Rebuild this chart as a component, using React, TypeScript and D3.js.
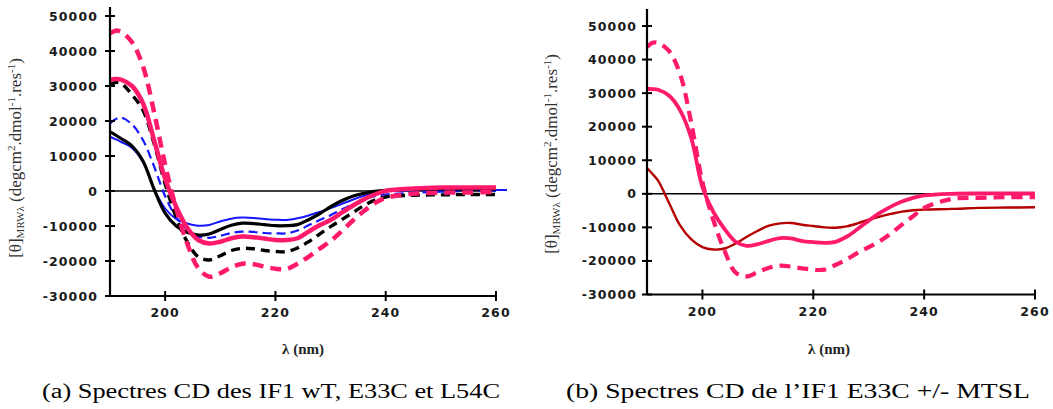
import React from "react";
import * as d3 from "d3";

// Wavelengths (nm) shared by all spectra
const wavelengths = [190, 191, 192, 194, 196, 198, 200, 202, 204, 206, 208, 210, 212, 214, 216, 218, 220, 222, 224, 226, 228, 230, 232, 234, 236, 238, 240, 245, 250, 255, 260];
const blueSolidWavelengths = [...wavelengths, 262];

// Panel (a): IF1 wT, E33C, L54C
const aPinkDashed = [45000, 45800, 45500, 42500, 35500, 22500, 7500, -5000, -15000, -22000, -24500, -23500, -21800, -20800, -20900, -21600, -22200, -22300, -20800, -18800, -16500, -14300, -11500, -8500, -5800, -3500, -2000, -800, -500, -400, -300];
const aBlackDashed = [30300, 31000, 30800, 27500, 23000, 13500, 2000, -7500, -14500, -18800, -19700, -18500, -17000, -16400, -16500, -17000, -17300, -17300, -16300, -14500, -12300, -10200, -8200, -6200, -4200, -2600, -1700, -1200, -1100, -1000, -1000];
const aPinkSolid = [31700, 32000, 31800, 30000, 25000, 14500, 3500, -4500, -10500, -14000, -15000, -14500, -13500, -13000, -13200, -13600, -14000, -14000, -13500, -11600, -9800, -8300, -6200, -4200, -2400, -1000, 0, 700, 1000, 1000, 1000];
const aBlueDashed = [19300, 20500, 21000, 19000, 14500, 7000, -1500, -7500, -11000, -13000, -13400, -12800, -12000, -11600, -11700, -12000, -12100, -12100, -11300, -9800, -8300, -6900, -5300, -3800, -2400, -1500, -1000, -500, -200, 0, 0];
const aBlackSolid = [16900, 16000, 15000, 12800, 8500, 500, -6300, -10000, -11800, -12600, -12300, -11000, -9800, -9200, -9300, -9600, -9900, -9900, -9600, -8200, -6500, -4500, -2800, -1500, -700, -100, 200, 500, 500, 500, 500];
const aBlueSolid = [15500, 14800, 14000, 12300, 8200, 500, -5000, -8000, -9300, -9900, -9700, -8700, -7900, -7600, -7700, -8000, -8200, -8300, -7800, -7000, -6000, -4900, -3700, -2500, -1400, -600, 0, 200, 300, 300, 300, 300];

// Panel (b): IF1 E33C +/- MTSL
const bPinkDashed = [43700, 45000, 45000, 42500, 35500, 21000, 3500, -8000, -17000, -23500, -24600, -23300, -22000, -21400, -21700, -22200, -22600, -22600, -21200, -19600, -17600, -15900, -14100, -11800, -9200, -6700, -4200, -1500, -1200, -1000, -1000];
const bPinkSolid = [31300, 31200, 31000, 29200, 24800, 16500, 2000, -5500, -10500, -14300, -15500, -15000, -14000, -13200, -13300, -14100, -14400, -14600, -14300, -12800, -10500, -8000, -5700, -3800, -2300, -1200, -500, 0, 100, 100, 100];
const bDarkRed = [7700, 5900, 3900, -2800, -9500, -13600, -15900, -16600, -16300, -14800, -12800, -11000, -9500, -8800, -8700, -9200, -9600, -10000, -10100, -9700, -8800, -7700, -6800, -6000, -5300, -4900, -4700, -4500, -4200, -4100, -4000];

const yTicks = [-30000, -20000, -10000, 0, 10000, 20000, 30000, 40000, 50000];
const xTicks = [200, 220, 240, 260];
const captions = ["(a) Spectres CD des IF1 wT, E33C et L54C", "(b) Spectres CD de l\u2019IF1 E33C +/- MTSL"];

const PINK = "#ff1a6c";
const BLUE = "#1616ff";
const BLACK = "#000000";
const DARKRED = "#b40000";

type Series = { xs: number[]; ys: number[]; color: string; width: number; dash?: string };

type PanelProps = {
  x0: number; x1: number; yTop: number; yBottom: number; axisTop: number;
  labelGap: number; ylabX: number; ylabY: number; xlabX: number;
  series: Series[]; caption: string; capX0: number; capX1: number;
};

function Panel(p: PanelProps) {
  const x = d3.scaleLinear().domain([190, 260]).range([p.x0, p.x1]);
  const y = d3.scaleLinear().domain([-30000, 50000]).range([p.yBottom, p.yTop]);
  const tickFont = { fontFamily: "DejaVu Sans", fontWeight: 700, fontSize: 12.5, letterSpacing: 1.1, fill: "#1a1a1a" } as any;
  return (
    <g>
      {/* zero line */}
      <line x1={p.x0} x2={p.x1} y1={y(0)} y2={y(0)} stroke="#000" strokeWidth={1.6} />
      {p.series.map((s, i) => {
        const line = d3.line<number>()
          .x((_, j) => x(s.xs[j]))
          .y((v) => y(v))
          .curve(d3.curveCatmullRom.alpha(0.5));
        return (
          <path key={i} d={line(s.ys) || ""} fill="none" stroke={s.color} strokeWidth={s.width}
            strokeDasharray={s.dash} strokeLinejoin="round" />
        );
      })}
      {/* y axis */}
      <line x1={p.x0} x2={p.x0} y1={p.axisTop} y2={p.yBottom} stroke="#000" strokeWidth={2.2} />
      {yTicks.map((t) => (
        <g key={t}>
          <line x1={p.x0 - 5} x2={p.x0 + 5} y1={y(t)} y2={y(t)} stroke="#000" strokeWidth={2} />
          <text x={p.x0 - p.labelGap} y={y(t) + 4.5} textAnchor="end" {...tickFont}>
            {t < 0 ? "-" + Math.abs(t) : String(t)}
          </text>
        </g>
      ))}
      {/* x axis */}
      <line x1={p.x0} x2={p.x1} y1={p.yBottom} y2={p.yBottom} stroke="#000" strokeWidth={2.2} />
      {xTicks.map((t) => (
        <g key={t}>
          <line x1={x(t)} x2={x(t)} y1={p.yBottom - 5} y2={p.yBottom + 5} stroke="#000" strokeWidth={2} />
          <text x={x(t)} y={p.yBottom + 21} textAnchor="middle" {...tickFont}>{t}</text>
        </g>
      ))}
      {/* axis titles */}
      <text transform={`translate(${p.ylabX},${p.ylabY}) rotate(-90)`} textAnchor="middle"
        fontFamily="Liberation Serif" fontSize={17} fill="#333">
        [θ]<tspan fontSize={11} dy={3}>MRWλ</tspan>
        <tspan dy={-3}> (degcm</tspan><tspan fontSize={11} dy={-6}>2</tspan>
        <tspan dy={6}>.dmol</tspan><tspan fontSize={11} dy={-6}>-1</tspan>
        <tspan dy={6}>.res</tspan><tspan fontSize={11} dy={-6}>-1</tspan>
        <tspan dy={6}>)</tspan>
      </text>
      <text x={p.xlabX} y={354} textAnchor="middle" fontFamily="Liberation Serif" fontWeight={700}
        fontSize={15} fill="#222">λ (nm)</text>
      <text x={p.capX0} y={398} fontFamily="Liberation Serif" fontSize={20} fill="#000"
        textLength={p.capX1 - p.capX0} lengthAdjust="spacingAndGlyphs">{p.caption}</text>
    </g>
  );
}

export default function App() {
  const left: Series[] = [
    { xs: blueSolidWavelengths, ys: aBlueSolid, color: BLUE, width: 2 },
    { xs: wavelengths, ys: aBlueDashed, color: BLUE, width: 2.2, dash: "9 5" },
    { xs: wavelengths, ys: aBlackSolid, color: BLACK, width: 3.2 },
    { xs: wavelengths, ys: aBlackDashed, color: BLACK, width: 3.4, dash: "9 6" },
    { xs: wavelengths, ys: aPinkSolid, color: PINK, width: 4.5 },
    { xs: wavelengths, ys: aPinkDashed, color: PINK, width: 4.5, dash: "11 7" },
  ];
  const right: Series[] = [
    { xs: wavelengths, ys: bDarkRed, color: DARKRED, width: 2.4 },
    { xs: wavelengths, ys: bPinkSolid, color: PINK, width: 3.8 },
    { xs: wavelengths, ys: bPinkDashed, color: PINK, width: 4.2, dash: "11 7" },
  ];
  return (
    <svg width={1053} height={409} style={{ position: "absolute", left: 0, top: 0, background: "#fff" }}>
      <Panel x0={110} x1={496} yTop={16} yBottom={296} axisTop={7} labelGap={12}
        ylabX={21} ylabY={158} xlabX={303} series={left} caption={captions[0]} capX0={42} capX1={500} />
      <Panel x0={647} x1={1035} yTop={26} yBottom={294.5} axisTop={9} labelGap={10}
        ylabX={557} ylabY={154} xlabX={829} series={right} caption={captions[1]} capX0={566} capX1={1030} />
    </svg>
  );
}
